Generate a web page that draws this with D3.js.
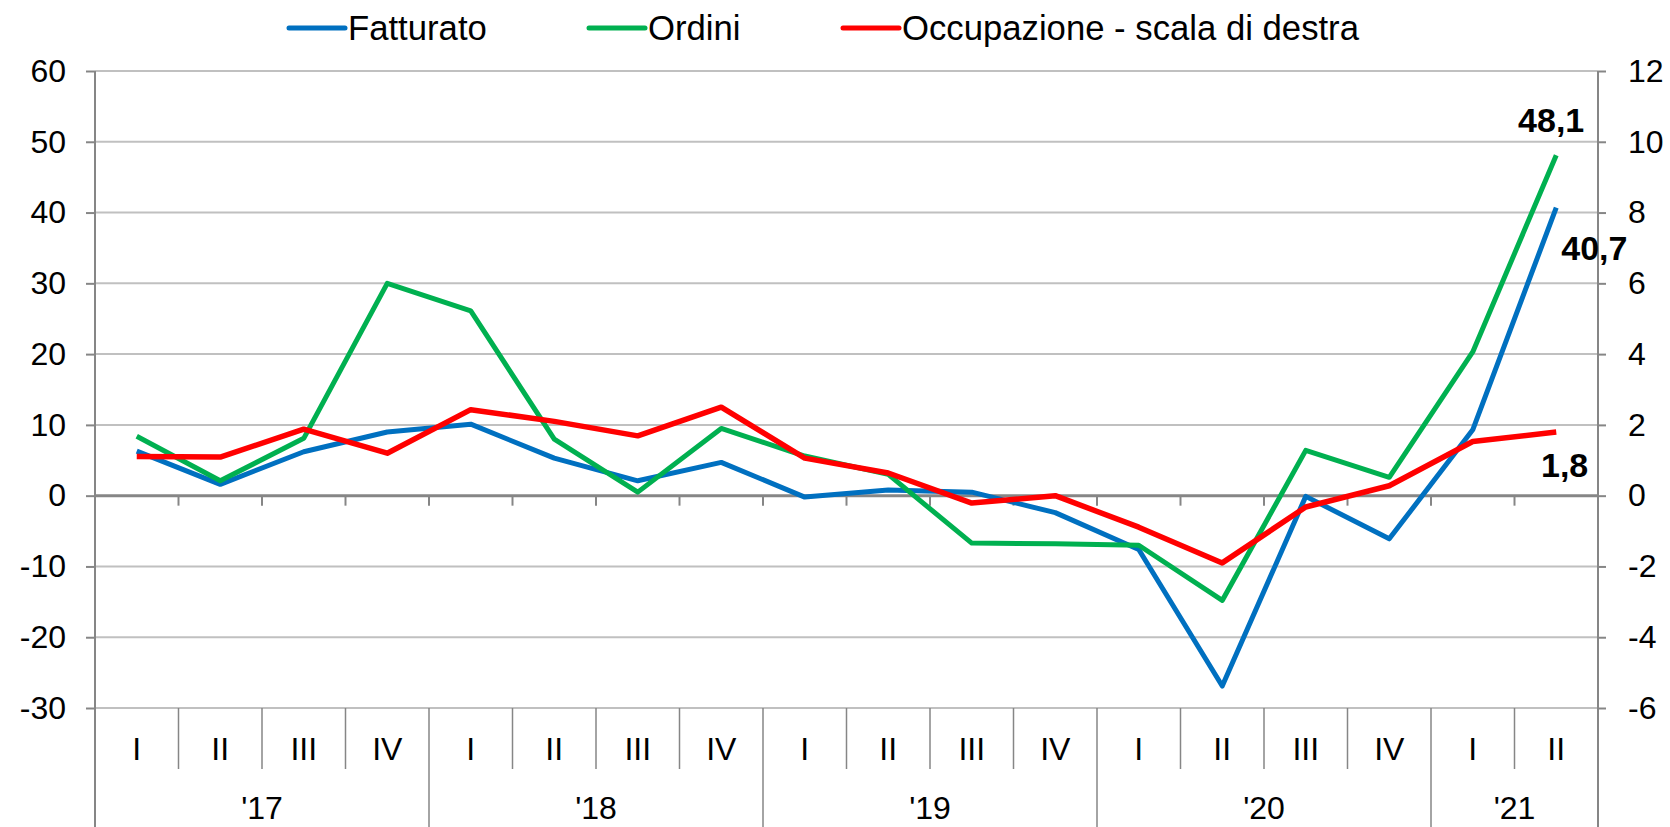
<!DOCTYPE html>
<html>
<head>
<meta charset="utf-8">
<script src="https://cdn.jsdelivr.net/npm/d3@7"></script>
<style>
  body { margin: 0; background: #fff; }
  text { font-family: "Liberation Sans", Arial, sans-serif; fill: #000; }
</style>
</head>
<body>
<div id="chart"></div>
<script>
// data
quarters = ["I","II","III","IV","I","II","III","IV","I","II","III","IV","I","II","III","IV","I","II"]
years = [{label: "'17", n: 4}, {label: "'18", n: 4}, {label: "'19", n: 4}, {label: "'20", n: 4}, {label: "'21", n: 2}]
fatturato = [6.3, 1.6, 6.2, 9.0, 10.1, 5.3, 2.1, 4.7, -0.2, 0.8, 0.5, -2.4, -7.6, -26.9, -0.1, -6.1, 9.3, 40.7]
ordini = [8.4, 2.1, 8.1, 30.0, 26.1, 8.0, 0.5, 9.5, 5.6, 3.0, -6.7, -6.8, -7.0, -14.8, 6.4, 2.6, 20.3, 48.1]
occupazione = [1.11, 1.09, 1.88, 1.2, 2.43, 2.1, 1.69, 2.5, 1.06, 0.64, -0.21, 0.0, -0.89, -1.9, -0.32, 0.28, 1.53, 1.8]
leftTicks = [-30, -20, -10, 0, 10, 20, 30, 40, 50, 60]
rightTicks = [-6, -4, -2, 0, 2, 4, 6, 8, 10, 12]
seriesNames = ["Fatturato", "Ordini", "Occupazione - scala di destra"]
colors = ["#0070C0", "#00B050", "#FF0000"]

width = 1670
height = 827
margin = ({top: 71, right: 72, bottom: 119, left: 95})
fontSize = 32

svg = d3.select("#chart").append("svg")
  .attr("width", width)
  .attr("height", height)

x = d3.scaleBand()
  .domain(d3.range(quarters.length))
  .range([margin.left, width - margin.right])
  .padding(0)
yL = d3.scaleLinear().domain([-30, 60]).range([height - margin.bottom, margin.top])
yR = d3.scaleLinear().domain([-6, 12]).range([height - margin.bottom, margin.top])
cx = i => x(i) + x.bandwidth() / 2

// gridlines
svg.append("g")
  .selectAll("line")
  .data(leftTicks.filter(d => d !== 0))
  .enter().append("line")
  .attr("x1", margin.left).attr("x2", width - margin.right)
  .attr("y1", d => yL(d)).attr("y2", d => yL(d))
  .attr("stroke", "#c0c0c0").attr("stroke-width", 2)

// left axis
leftAxis = svg.append("g")
  .attr("transform", `translate(${margin.left},0)`)
  .call(d3.axisLeft(yL).tickValues(leftTicks).tickSize(9).tickPadding(20).tickFormat(d3.format("d")))
leftAxis.select(".domain").remove()
leftAxis.selectAll("line").attr("stroke", "#868686").attr("stroke-width", 2)
leftAxis.selectAll("text").style("font-size", fontSize + "px").text(d => String(d))

// right axis
rightAxis = svg.append("g")
  .attr("transform", `translate(${width - margin.right},0)`)
  .call(d3.axisRight(yR).tickValues(rightTicks).tickSize(8).tickPadding(22).tickFormat(d3.format("d")))
rightAxis.select(".domain").remove()
rightAxis.selectAll("line").attr("stroke", "#868686").attr("stroke-width", 2)
rightAxis.selectAll("text").style("font-size", fontSize + "px").text(d => String(d))

// vertical axis lines running to the bottom
svg.append("line")
  .attr("x1", margin.left).attr("x2", margin.left)
  .attr("y1", margin.top).attr("y2", height)
  .attr("stroke", "#868686").attr("stroke-width", 2)
svg.append("line")
  .attr("x1", width - margin.right).attr("x2", width - margin.right)
  .attr("y1", margin.top).attr("y2", height)
  .attr("stroke", "#868686").attr("stroke-width", 2)

// zero axis with small ticks
svg.append("line")
  .attr("x1", margin.left).attr("x2", width - margin.right)
  .attr("y1", yL(0)).attr("y2", yL(0))
  .attr("stroke", "#868686").attr("stroke-width", 3)
svg.append("g")
  .selectAll("line")
  .data(d3.range(1, quarters.length))
  .enter().append("line")
  .attr("x1", d => x(d)).attr("x2", d => x(d))
  .attr("y1", yL(0)).attr("y2", yL(0) + 10)
  .attr("stroke", "#868686").attr("stroke-width", 2)

// category separators below the plot
yearStarts = []
acc = 0
years.forEach(y => { yearStarts.push(acc); acc += y.n })
svg.append("g")
  .selectAll("line")
  .data(d3.range(1, quarters.length))
  .enter().append("line")
  .attr("x1", d => x(d)).attr("x2", d => x(d))
  .attr("y1", yL(-30))
  .attr("y2", d => yearStarts.includes(d) ? height : yL(-30) + 61)
  .attr("stroke", "#868686").attr("stroke-width", 1.5)

// quarter labels
svg.append("g")
  .selectAll("text")
  .data(quarters)
  .enter().append("text")
  .attr("x", (d, i) => cx(i))
  .attr("y", 760)
  .attr("text-anchor", "middle")
  .style("font-size", fontSize + "px")
  .text(d => d)

// year labels
svg.append("g")
  .selectAll("text")
  .data(years)
  .enter().append("text")
  .attr("x", (d, i) => (x(yearStarts[i]) + x(yearStarts[i] + d.n - 1) + x.bandwidth()) / 2)
  .attr("y", 819)
  .attr("text-anchor", "middle")
  .style("font-size", fontSize + "px")
  .text(d => d.label)

// lines
lineL = d3.line().x((d, i) => cx(i)).y(d => yL(d))
lineR = d3.line().x((d, i) => cx(i)).y(d => yR(d))
svg.append("path").datum(fatturato)
  .attr("d", lineL).attr("fill", "none")
  .attr("stroke", colors[0]).attr("stroke-width", 5).attr("stroke-linejoin", "round")
svg.append("path").datum(ordini)
  .attr("d", lineL).attr("fill", "none")
  .attr("stroke", colors[1]).attr("stroke-width", 5).attr("stroke-linejoin", "round")
svg.append("path").datum(occupazione)
  .attr("d", lineR).attr("fill", "none")
  .attr("stroke", colors[2]).attr("stroke-width", 5.5).attr("stroke-linejoin", "round")

// data labels at the last point
last = quarters.length - 1
fmt = v => d3.format(".1f")(v).replace(".", ",")
labelStyle = s => s.style("font-size", "34px").style("font-weight", "bold")
svg.append("text").attr("x", cx(last) + 28).attr("y", yL(ordini[last]) - 23)
  .attr("text-anchor", "end").call(labelStyle).text(fmt(ordini[last]))
svg.append("text").attr("x", cx(last) + 5).attr("y", yL(fatturato[last]) + 52)
  .attr("text-anchor", "start").call(labelStyle).text(fmt(fatturato[last]))
svg.append("text").attr("x", cx(last) + 32).attr("y", yR(occupazione[last]) + 45)
  .attr("text-anchor", "end").call(labelStyle).text(fmt(occupazione[last]))

// legend
legendX = [289, 589, 843]
legend = svg.append("g")
  .selectAll("g")
  .data(seriesNames)
  .enter().append("g")
  .attr("transform", (d, i) => `translate(${legendX[i]},28)`)
legend.append("line")
  .attr("x1", 0).attr("x2", 56)
  .attr("stroke", (d, i) => colors[i]).attr("stroke-width", 5).attr("stroke-linecap", "round")
legend.append("text")
  .attr("x", 59).attr("dy", "0.35em")
  .style("font-size", "34.7px")
  .text(d => d)
</script>
</body>
</html>
